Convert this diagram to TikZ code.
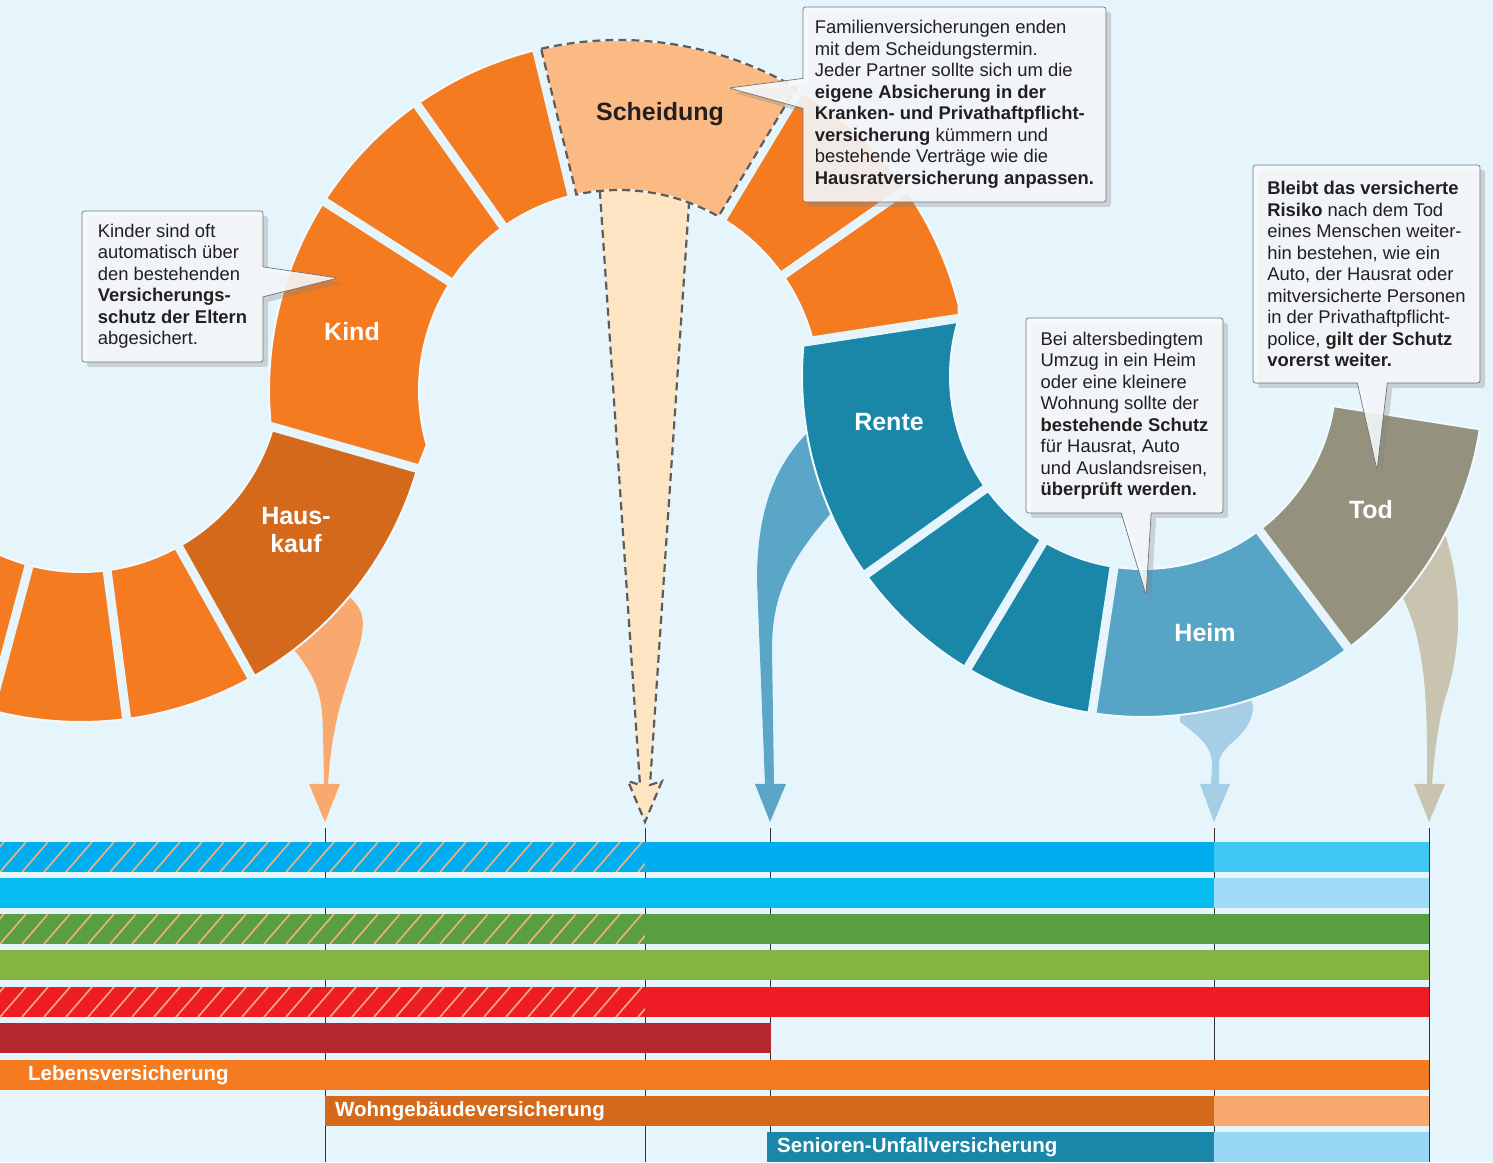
\documentclass[tikz,border=0pt]{standalone}
\usepackage{fontspec}
\setmainfont{Liberation Sans}
\usetikzlibrary{calc,shapes.callouts,shadows}

\definecolor{bgblue}{HTML}{E6F5FC}
\definecolor{segorange}{HTML}{F47B20}
\definecolor{segdark}{HTML}{D4691C}
\definecolor{segpeach}{HTML}{FBBA83}
\definecolor{arrpeach}{HTML}{FDE4C3}
\definecolor{arrorange}{HTML}{F9A96E}
\definecolor{segteal}{HTML}{1A86A8}
\definecolor{segsky}{HTML}{56A5C6}
\definecolor{arrteal}{HTML}{5AA6C7}
\definecolor{arrsky}{HTML}{A6CFE5}
\definecolor{seggrey}{HTML}{94927F}
\definecolor{arrgrey}{HTML}{C8C4AF}
\definecolor{barblue}{HTML}{00AEEF}
\definecolor{barbluelt}{HTML}{40C8F4}
\definecolor{barcyan}{HTML}{05BCF1}
\definecolor{barcyanlt}{HTML}{A0DCF7}
\definecolor{bargreen}{HTML}{5A9E44}
\definecolor{barlime}{HTML}{84B441}
\definecolor{barred}{HTML}{EE1C25}
\definecolor{barwine}{HTML}{B7282E}
\definecolor{barsenior}{HTML}{98D8F5}
\definecolor{hatchpeach}{HTML}{F5B07A}
\definecolor{inkdark}{HTML}{231F20}
\definecolor{dashgrey}{HTML}{5C5C5C}
\definecolor{notefill}{HTML}{F7FBFD}

\tikzset{
  seg/.style={fill=#1, draw=white!50!bgblue, line width=2pt},
  gapline/.style={draw=bgblue, line width=9pt},
  seglabel/.style={font=\bfseries\fontsize{25}{28}\selectfont, text=white, align=center},
  barlabel/.style={font=\bfseries\fontsize{20.5}{24}\selectfont, text=white, anchor=west, inner sep=0pt},
  hatch/.style={draw=hatchpeach, line width=1.6pt},
  tickline/.style={draw=black!80, line width=1pt},
  dashline/.style={draw=dashgrey, line width=2.2pt, dash pattern=on 8pt off 5pt},
  note/.style={rectangle callout, draw=black!55, line width=0.7pt, fill=notefill,
    fill opacity=0.88, text opacity=1, rounded corners=2.5pt, callout pointer width=30pt,
    align=left, inner xsep=8pt, inner ysep=8pt, outer sep=0pt, text=inkdark,
    font=\fontsize{18.4}{21.5}\selectfont,
    drop shadow={shadow xshift=5pt, shadow yshift=-5pt, opacity=0.3}}
}

\begin{document}
\begin{tikzpicture}[x=1pt, y=1pt]
  \useasboundingbox (0,0) rectangle (1493,1162);
  \fill[bgblue] (0,0) rectangle (1493,1162);

  % arc centres and the two bends of the band
  \coordinate (cA) at (619,772);
  \coordinate (cB) at (81,790);
  \coordinate (cC) at (1143,786);
  \coordinate (lp) at ($(cB)+(-16:200)$);
  \coordinate (lq) at ($(cB)+(-16:350)$);
  \coordinate (rp) at ($(cC)+(174.3:341)$);
  \coordinate (rq) at ($(cC)+(162.6:193)$);

  % time line
  \foreach \x/\n in {325/tHaus,645/tScheid,770/tRente,1214/tHeim,1429/tTod} {
    \coordinate (\n) at (\x,340);
    \draw[tickline] (\x,334) -- (\x,0);
  }

  % arrows down to the time line
  \fill[arrorange] (290,517) .. controls (320,482) and (322,462) .. (323,432) -- (324,378)
    -- (309,378) -- (tHaus) -- (340,378) -- (328,378) .. controls (332,442) and (345,472) .. (358,512)
    .. controls (368,542) and (362,557) .. (345,568) -- cycle;
  \fill[arrteal] (810,732) .. controls (775,697) and (757,652) .. (757,582) -- (765,378)
    -- (755,378) -- (tRente) -- (786,378) -- (774,378) -- (772,512)
    .. controls (772,562) and (785,597) .. (832,650) -- cycle;
  \fill[arrsky] (1180,450) -- (1180,440) .. controls (1200,425) and (1213,415) .. (1212,395)
    -- (1211,378) -- (1200,378) -- (tHeim) -- (1230,378) -- (1219,378) -- (1219,400)
    .. controls (1222,420) and (1253,425) .. (1253,457) -- (1250,464) -- cycle;
  \fill[arrgrey] (1402,566) .. controls (1420,530) and (1426,490) .. (1427,420) -- (1427,378)
    -- (1414,378) -- (tTod) -- (1445,378) -- (1432,378) .. controls (1436,430) and (1443,460) .. (1448,472)
    .. controls (1458,510) and (1466,560) .. (1445,628) -- cycle;

  % lower left arc
  \begin{scope}[shift={(81,790)}]
    \path[seg=segorange] (-140:350) arc[start angle=-140, end angle=-105, radius=350]
      -- (-105:200) arc[start angle=-105, end angle=-140, radius=200] -- cycle;
    \path[seg=segorange] (-105:350) arc[start angle=-105, end angle=-82.5, radius=350]
      -- (-82.5:200) arc[start angle=-82.5, end angle=-105, radius=200] -- cycle;
    \path[seg=segorange] (-82.5:350) arc[start angle=-82.5, end angle=-60.8, radius=350]
      -- (-60.8:200) arc[start angle=-60.8, end angle=-82.5, radius=200] -- cycle;
    \path[seg=segdark] (-60.8:350) arc[start angle=-60.8, end angle=-16, radius=350]
      -- (-16:200) arc[start angle=-16, end angle=-60.8, radius=200] -- cycle;
    \foreach \a in {-105,-82.5,-60.8} \draw[gapline] (\a:194) -- (\a:356);
  \end{scope}

  % upper arc
  \begin{scope}[shift={(619,772)}]
    \path[seg=segorange] (147.4:350) arc[start angle=147.4, end angle=186.1, radius=350]
      -- (lq) -- (196:200) arc[start angle=196, end angle=147.4, radius=200] -- cycle;
    \path[seg=segorange] (125.3:350) arc[start angle=125.3, end angle=147.4, radius=350]
      -- (147.4:200) arc[start angle=147.4, end angle=125.3, radius=200] -- cycle;
    \path[seg=segorange] (103.6:350) arc[start angle=103.6, end angle=125.3, radius=350]
      -- (125.3:200) arc[start angle=125.3, end angle=103.6, radius=200] -- cycle;
    \path[seg=segpeach] (58.9:350) arc[start angle=58.9, end angle=103.6, radius=350]
      -- (103.6:200) arc[start angle=103.6, end angle=58.9, radius=200] -- cycle;
    \path[seg=segorange] (35:350) arc[start angle=35, end angle=58.9, radius=350]
      -- (58.9:200) arc[start angle=58.9, end angle=35, radius=200] -- cycle;
    \path[seg=segorange] (35:350) arc[start angle=35, end angle=14, radius=350]
      -- (rq) -- (rp) -- (15:200) arc[start angle=15, end angle=35, radius=200] -- cycle;
    \foreach \a in {147.4,125.3,103.6,58.9,35} \draw[gapline] (\a:194) -- (\a:356);
  \end{scope}

  % right arc
  \begin{scope}[shift={(1143,786)}]
    \path[seg=segteal] (174.3:341) arc[start angle=174.3, end angle=215.6, radius=341]
      -- (215.6:193) arc[start angle=215.6, end angle=162.6, radius=193] -- cycle;
    \path[seg=segteal] (215.6:341) arc[start angle=215.6, end angle=239, radius=341]
      -- (239:193) arc[start angle=239, end angle=215.6, radius=193] -- cycle;
    \path[seg=segteal] (239:341) arc[start angle=239, end angle=261.4, radius=341]
      -- (261.4:193) arc[start angle=261.4, end angle=239, radius=193] -- cycle;
    \path[seg=segsky] (261.4:341) arc[start angle=261.4, end angle=307, radius=341]
      -- (307:193) arc[start angle=307, end angle=261.4, radius=193] -- cycle;
    \path[seg=seggrey] (307:341) arc[start angle=307, end angle=351, radius=341]
      -- (351:193) arc[start angle=351, end angle=307, radius=193] -- cycle;
    \foreach \a in {215.6,239,261.4,307} \draw[gapline] (\a:187) -- (\a:347);
  \end{scope}
  \draw[gapline] ($(lp)!-6pt!(lq)$) -- ($(lq)!-6pt!(lp)$);
  \draw[gapline] ($(rp)!-6pt!(rq)$) -- ($(rq)!-6pt!(rp)$);

  % Scheidung: dashed segment and arrow
  \fill[arrpeach] ($(cA)+(95.5:200)$) -- (640,377) -- (628,381) -- (tScheid) -- (662,381)
    -- (650,377) -- ($(cA)+(69.5:200)$) arc[start angle=69.5, end angle=95.5, radius=200] -- cycle;
  \begin{scope}[shift={(619,772)}]
    \draw[dashline] (102.86:350) arc[start angle=102.86, end angle=59.64, radius=350]
      -- (60.19:200) arc[start angle=60.19, end angle=102.31, radius=200] -- cycle;
  \end{scope}
  \draw[dashline] ($(cA)+(95.5:200)$) -- (640,377) -- (628,381) -- (tScheid) -- (662,381)
    -- (650,377) -- ($(cA)+(69.5:200)$);

  % segment labels
  \node (kind) [seglabel] at (352,830) {Kind};
  \node (hauskauf) [seglabel] at (296,632) {Haus-\\kauf};
  \node (scheidung) [seglabel, text=inkdark] at (660,1048) {Scheidung};
  \node (rente) [seglabel] at (889,740) {Rente};
  \node (heim) [seglabel] at (1205,529) {Heim};
  \node (tod) [seglabel] at (1371,652) {Tod};

  % notes
  \coordinate (kindtip) at (338,884);
  \coordinate (scheidtip) at (729,1074);
  \coordinate (heimtip) at (1146,567);
  \coordinate (todtip) at (1377,692);
  \node (kindnote) [note, minimum width=181pt, minimum height=151pt,
    callout absolute pointer={(kindtip)}] at (172.5,875.5)
    {Kinder sind oft\\automatisch über\\den bestehenden\\\textbf{Versicherungs-}\\\textbf{schutz der Eltern}\\abgesichert.};
  \node (scheidnote) [note, minimum width=303pt, minimum height=195pt,
    callout absolute pointer={(scheidtip)}] at (954.5,1057.5)
    {Familienversicherungen enden\\mit dem Scheidungstermin.\\Jeder Partner sollte sich um die\\\textbf{eigene Absicherung in der}\\\textbf{Kranken- und Privathaftpflicht-}\\\textbf{versicherung} kümmern und\\bestehende Verträge wie die\\\textbf{Hausratversicherung anpassen.}};
  \node (heimnote) [note, minimum width=197pt, minimum height=195pt,
    callout absolute pointer={(heimtip)}] at (1124.5,746.5)
    {Bei altersbedingtem\\Umzug in ein Heim\\oder eine kleinere\\Wohnung sollte der\\\textbf{bestehende Schutz}\\für Hausrat, Auto\\und Auslandsreisen,\\\textbf{überprüft werden.}};
  \node (todnote) [note, minimum width=227pt, minimum height=218pt,
    callout absolute pointer={(todtip)}] at (1366.5,888)
    {\textbf{Bleibt das versicherte}\\\textbf{Risiko} nach dem Tod\\eines Menschen weiter-\\hin bestehen, wie ein\\Auto, der Hausrat oder\\mitversicherte Personen\\in der Privathaftpflicht-\\police, \textbf{gilt der Schutz}\\\textbf{vorerst weiter.}};

  % bars, hatched parts first
  \foreach \yb/\col in {290/barblue,218/bargreen,145/barred} {
    \begin{scope}
      \clip (0,\yb) rectangle (645,\yb+30);
      \fill[\col] (0,\yb) rectangle (645,\yb+30);
      \foreach \x in {-44,-22,...,650} \draw[hatch] (\x,\yb) -- ++(26,30);
    \end{scope}
  }
  \fill[barblue] (645,290) rectangle (1214,320);
  \fill[barbluelt] (1214,290) rectangle (1429,320);
  \fill[barcyan] (0,254) rectangle (1214,284);
  \fill[barcyanlt] (1214,254) rectangle (1429,284);
  \fill[bargreen] (645,218) rectangle (1429,248);
  \fill[barlime] (0,182) rectangle (1429,212);
  \fill[barred] (645,145) rectangle (1429,175);
  \fill[barwine] (0,109) rectangle (771,139);
  \fill[segorange] (0,72) rectangle (1429,102);
  \fill[segdark] (325,36) rectangle (1214,66);
  \fill[arrorange] (1214,36) rectangle (1429,66);
  \fill[segteal] (767,0) rectangle (1214,30);
  \fill[barsenior] (1214,0) rectangle (1429,30);
  \node (leben) [barlabel] at (28,87) {Lebensversicherung};
  \node (wohn) [barlabel] at (335,51) {Wohngebäudeversicherung};
  \node (senior) [barlabel] at (777,15) {Senioren-Unfallversicherung};
\end{tikzpicture}
\end{document}
